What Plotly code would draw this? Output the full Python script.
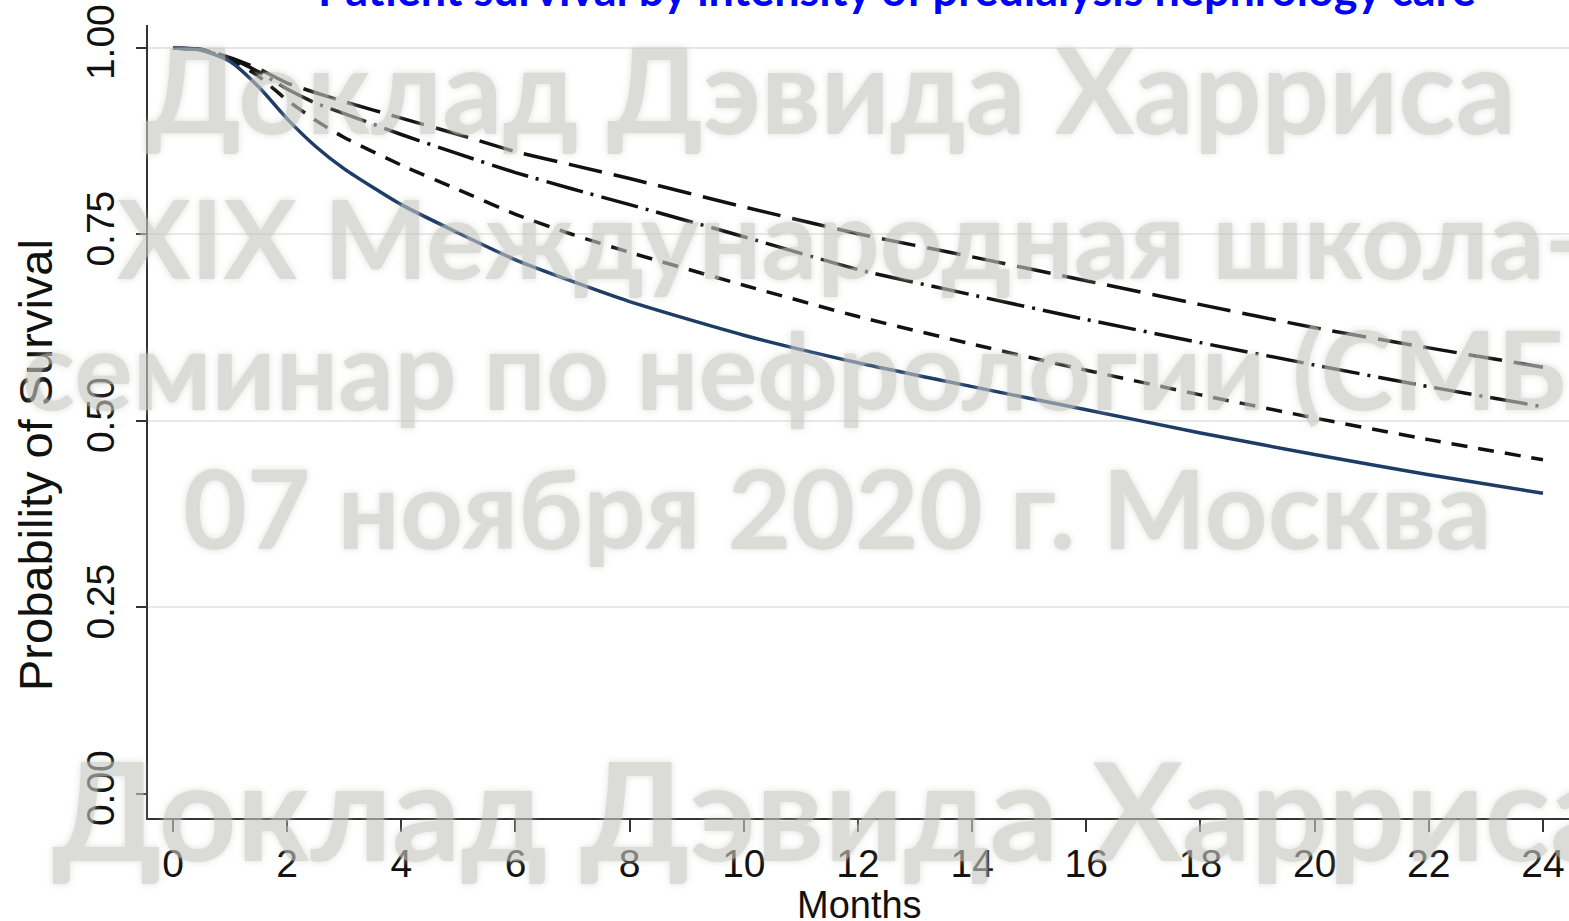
import plotly.graph_objects as go

# Kaplan-Meier style survival curves by intensity of predialysis nephrology care
months = [0, 0.5, 1, 1.5, 2, 2.5, 3, 4, 5, 6, 7, 8, 10, 12, 14, 16, 18, 20, 22, 24]

surv_longdash = [1.000, 0.998, 0.987, 0.972, 0.953, 0.940, 0.928, 0.906, 0.884, 0.861,
                 0.843, 0.825, 0.787, 0.751, 0.720, 0.688, 0.656, 0.625, 0.598, 0.572]
surv_dashdot = [1.000, 0.998, 0.986, 0.968, 0.945, 0.926, 0.912, 0.884, 0.858, 0.833,
                0.811, 0.790, 0.747, 0.703, 0.669, 0.636, 0.605, 0.575, 0.546, 0.519]
surv_shortdash = [1.000, 0.997, 0.985, 0.962, 0.930, 0.903, 0.880, 0.843, 0.810, 0.777,
                  0.750, 0.726, 0.682, 0.640, 0.603, 0.568, 0.535, 0.504, 0.475, 0.448]
surv_solid = [1.000, 0.997, 0.982, 0.948, 0.905, 0.868, 0.838, 0.790, 0.752, 0.716,
              0.687, 0.660, 0.615, 0.578, 0.546, 0.515, 0.484, 0.455, 0.428, 0.403]

x_ticks = list(range(0, 25, 2))
y_ticks = [0.0, 0.25, 0.5, 0.75, 1.0]
y_ticktext = ["0.00", "0.25", "0.50", "0.75", "1.00"]

title_text = "Patient survival by intensity of predialysis nephrology care"
watermark_lines = [
    "Доклад Дэвида Харриса",
    "XIX Международная школа-",
    "семинар по нефрологии (СМБ",
    "07 ноября 2020 г. Москва",
    "Доклад Дэвида Харриса",
]

W, H = 1569, 921
ML, MR, MT, MB = 148, 0, 25, 103


def px_x(p):
    return (p - ML) / (W - ML - MR)


def px_y(p):
    return (H - MB - p) / (H - MT - MB)


fig = go.Figure()

series = [
    (surv_longdash, "#111111", "34px,12px", 3.5),
    (surv_dashdot, "#111111", "38px,8px,3px,8px", 3.5),
    (surv_shortdash, "#111111", "16px,11px", 3.5),
    (surv_solid, "#1d3d66", "solid", 3.5),
]
for vals, col, dash, w in series:
    fig.add_trace(go.Scatter(
        x=months, y=vals, mode="lines",
        line=dict(color=col, width=w, dash=dash, shape="spline", smoothing=0.6),
        showlegend=False, hoverinfo="skip",
    ))

axis_font = "Liberation Sans, Arial, sans-serif"
fig.update_xaxes(
    range=[-0.438, 24.456], tickvals=x_ticks, ticks="outside", ticklen=12, tickwidth=1.5,
    tickcolor="#333", showline=True, linecolor="#333", linewidth=2, showgrid=False,
    zeroline=False, tickfont=dict(family=axis_font, size=39, color="#111"),
    ticklabelstandoff=-2,
)
fig.update_yaxes(
    range=[-0.0322, 1.0308], tickvals=y_ticks, ticktext=y_ticktext, ticks="outside",
    ticklen=10, tickwidth=1.5, tickcolor="#333", showline=True, linecolor="#333",
    linewidth=2, showgrid=True, gridcolor="#e8e8e8", gridwidth=2,
    zeroline=True, zerolinecolor="rgba(0,0,0,0)", tickangle=-90,
    tickfont=dict(family=axis_font, size=39, color="#111"),
    ticklabelstandoff=6,
)

annotations = [
    dict(text="Probability of Survival", textangle=-90, x=px_x(35), y=px_y(465),
         font=dict(family=axis_font, size=47, color="#111")),
    dict(text="Months", x=px_x(860), y=px_y(905),
         font=dict(family=axis_font, size=38, color="#111")),
    dict(text="<b>" + title_text + "</b>", x=px_x(897), y=px_y(-11),
         font=dict(family="Lato, Open Sans, sans-serif", size=45, color="#0000ff")),
]

wm_font = "Lato, Open Sans, Noto Sans, sans-serif"
wm_specs = [
    (watermark_lines[0], 830, 88, 119, "center"),
    (watermark_lines[1], 115, 236, 110, "left"),
    (watermark_lines[2], 20, 367, 110, "left"),
    (watermark_lines[3], 837, 506, 110, "center"),
    (watermark_lines[4], 50, 808, 136, "left"),
]
for txt, xp, yp, size, anchor in wm_specs:
    annotations.append(dict(
        text="<b>" + txt + "</b>", x=px_x(xp), y=px_y(yp), xanchor=anchor, yanchor="middle",
        opacity=0.62,
        font=dict(family=wm_font, size=size, color="rgb(198,198,193)",
                  shadow="0px 0px 7px rgb(205,205,200)"),
    ))

for a in annotations:
    a.setdefault("xanchor", "center")
    a.setdefault("yanchor", "middle")
    a.update(xref="paper", yref="paper", showarrow=False)

fig.update_layout(
    width=W, height=H, margin=dict(l=ML, r=MR, t=MT, b=MB),
    paper_bgcolor="white", plot_bgcolor="white",
    annotations=annotations,
)

fig.write_html("out.html")
